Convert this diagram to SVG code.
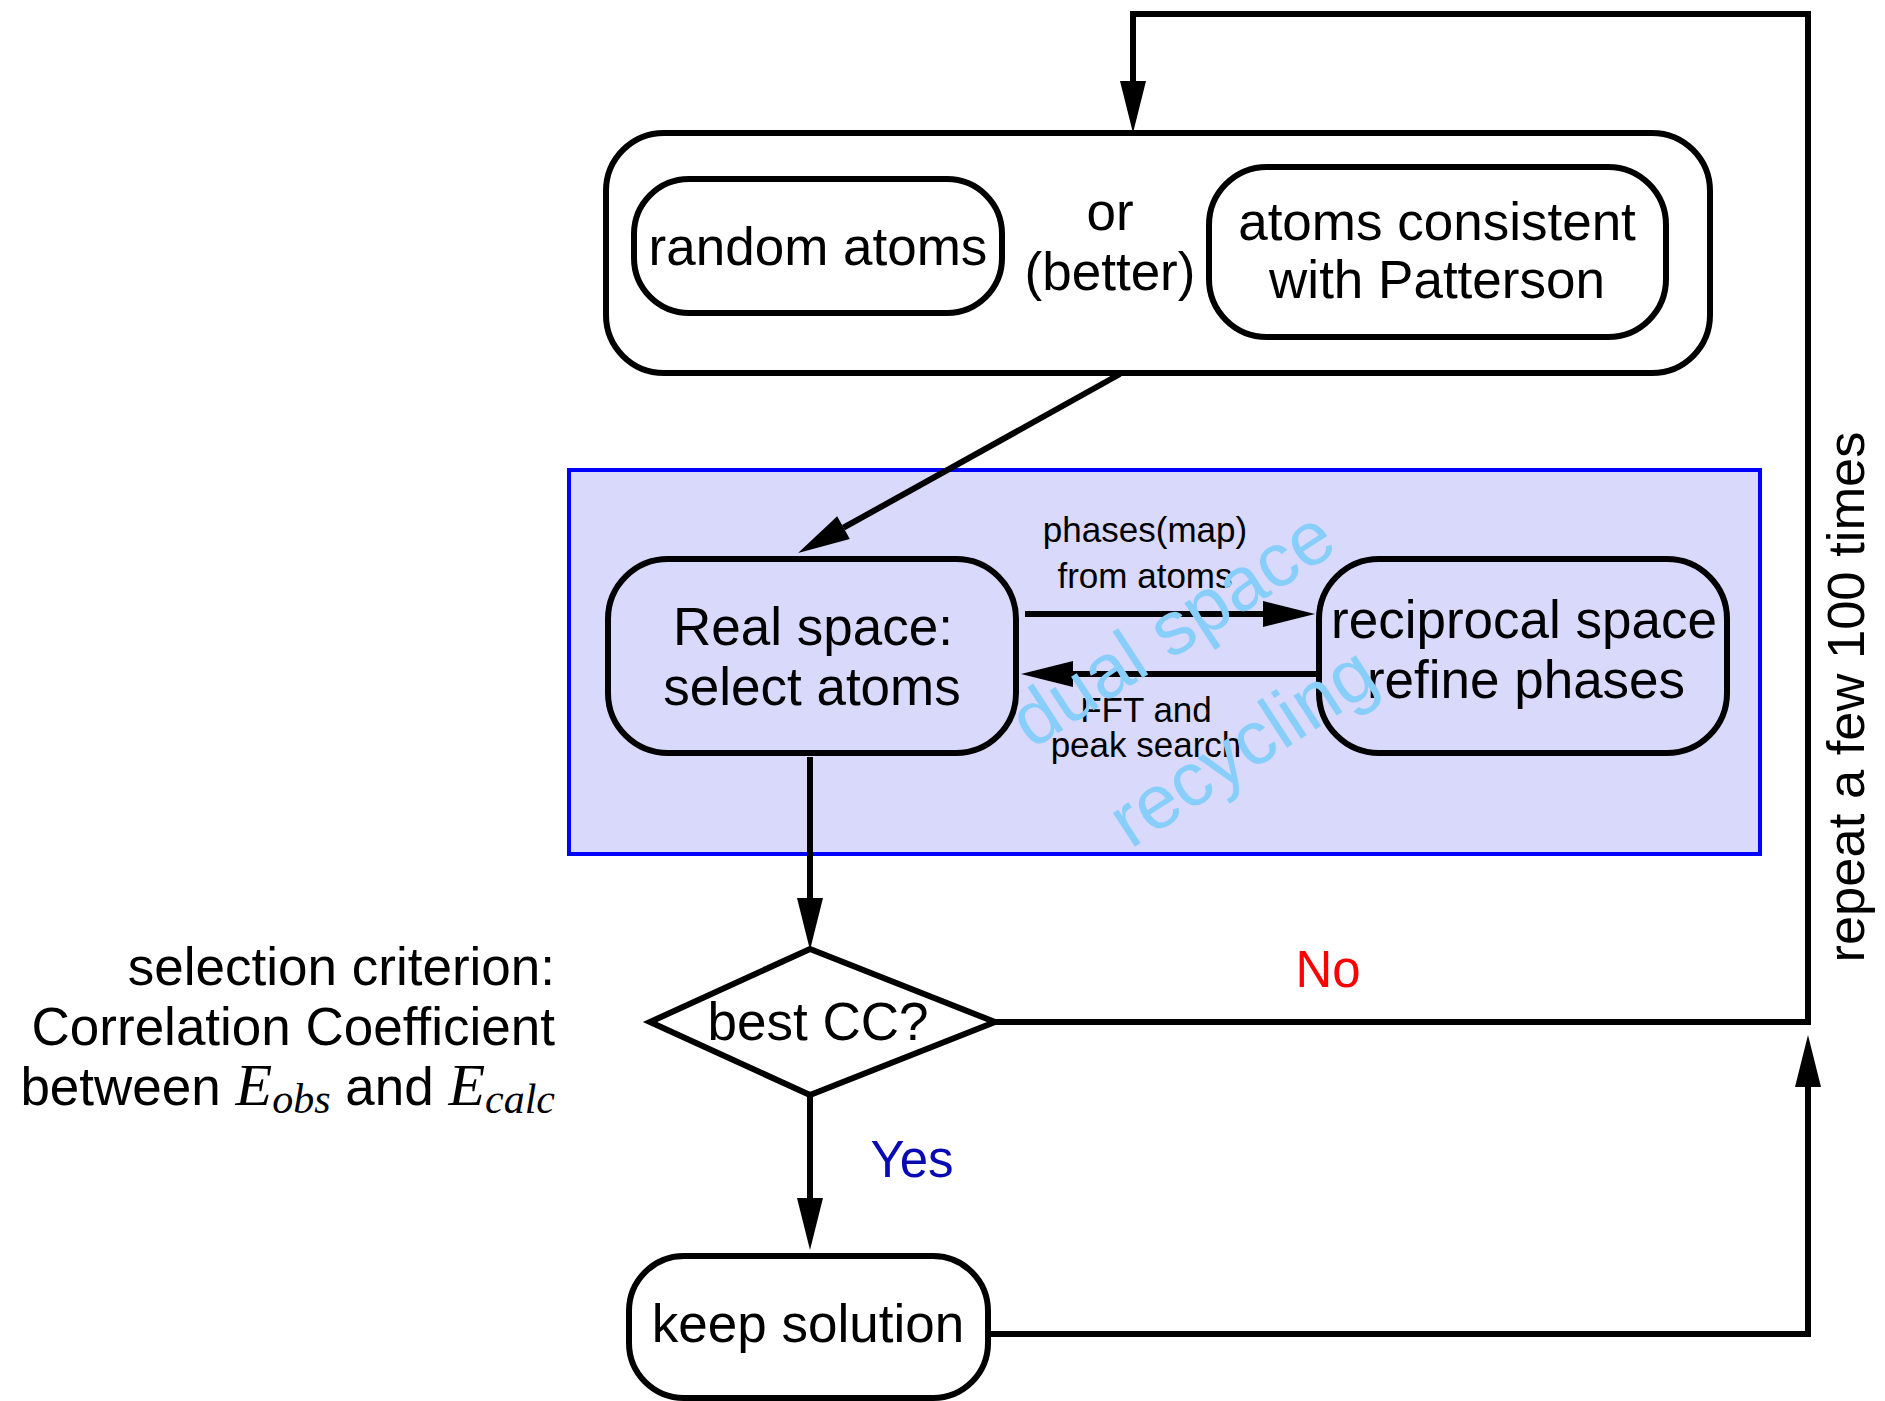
<svg xmlns="http://www.w3.org/2000/svg" width="1885" height="1401" viewBox="0 0 1885 1401">
<style>
text{font-family:"Liberation Sans",Arial,sans-serif;fill:#000}
.box{fill:none;stroke:#000;stroke-width:6}
.big{font-size:53px;text-anchor:middle}
.small{font-size:35px;text-anchor:middle}
.line{fill:none;stroke:#000;stroke-width:6;stroke-linejoin:miter}
.math{font-family:"Liberation Serif","Times New Roman",serif;font-style:italic}
text.wm{font-size:76px;fill:#87cefa;text-anchor:middle}
text.no{fill:#ff0000}
text.yes{fill:#0a0ab4}
</style>
<defs>
<marker id="ah" markerUnits="userSpaceOnUse" markerWidth="52" markerHeight="26" refX="0" refY="13" orient="auto" overflow="visible">
<path d="M0,0 L52,13 L0,26 z" fill="#000"/>
</marker>
</defs>
<rect width="1885" height="1401" fill="#fff"/>

<g id="dual-space-region">
<rect x="569" y="470" width="1191" height="384" fill="#d9d9fb" stroke="#0000ff" stroke-width="4"/>
</g>

<g id="start-options">
<rect class="box" x="606" y="133" width="1104" height="240" rx="58" ry="58"/>
<text class="big" x="1110" y="230">or</text>
<text class="big" x="1110" y="290">(better)</text>
</g>
<g id="random-atoms">
<rect class="box" x="634" y="179" width="368" height="134" rx="55" ry="55"/>
<text class="big" x="818" y="265">random atoms</text>
</g>
<g id="patterson-atoms">
<rect class="box" x="1209" y="167" width="457" height="170" rx="58" ry="58"/>
<text class="big" x="1437" y="240">atoms consistent</text>
<text class="big" x="1437" y="298">with Patterson</text>
</g>
<g id="real-space">
<rect class="box" x="608" y="559" width="408" height="194" rx="60" ry="60"/>
<text class="big" x="813" y="645">Real space:</text>
<text class="big" x="812" y="705">select atoms</text>
</g>
<g id="reciprocal-space">
<rect class="box" x="1319" y="559" width="408" height="194" rx="60" ry="60"/>
<text class="big" x="1524" y="638">reciprocal space</text>
<text class="big" x="1526" y="698">refine phases</text>
</g>
<g id="best-cc">
<polygon class="box" points="650,1022 810,949 995,1022 810,1095"/>
<text class="big" x="818" y="1040">best CC?</text>
</g>
<g id="keep-solution">
<rect class="box" x="629" y="1256" width="359" height="142" rx="55" ry="55"/>
<text class="big" x="808" y="1342">keep solution</text>
</g>

<g id="connectors">
<path class="line" d="M1120,374 L843.5,527.7" marker-end="url(#ah)"/>
<path class="line" d="M1025,614 H1263" stroke-width="7" marker-end="url(#ah)"/>
<path class="line" d="M1316,674 H1073" stroke-width="7" marker-end="url(#ah)"/>
<path class="line" d="M810,757 V898" marker-end="url(#ah)"/>
<path class="line" d="M810,1095 V1198" marker-end="url(#ah)"/>
<path class="line" d="M995,1022 H1808 V14 H1133 V81" marker-end="url(#ah)"/>
<path class="line" d="M988,1334 H1808 V1087" marker-end="url(#ah)"/>
<text class="small" x="1145" y="542">phases(map)</text>
<text class="small" x="1145" y="588">from atoms</text>
<text class="small" x="1146" y="722">FFT and</text>
<text class="small" x="1146" y="757">peak search</text>
<text class="no" x="1328" y="987" font-size="51" text-anchor="middle">No</text>
<text class="yes" x="912" y="1177" font-size="51" text-anchor="middle">Yes</text>
<text transform="translate(1864,697) rotate(-90)" font-size="52.5" text-anchor="middle">repeat a few 100 times</text>
</g>

<g id="watermark">
<text class="wm" transform="translate(1172,628) rotate(-33)" y="26">dual space</text>
<text class="wm" transform="translate(1242,746) rotate(-33)" y="26">recycling</text>
</g>

<g id="criterion-note">
<text x="555" y="985" font-size="53" text-anchor="end">selection criterion:</text>
<text x="555" y="1045" font-size="53" text-anchor="end">Correlation Coefficient</text>
<text x="555" y="1105" font-size="53" text-anchor="end">between <tspan class="math" font-size="60">E</tspan><tspan class="math" font-size="42" dy="8">obs</tspan><tspan dy="-8"> and </tspan><tspan class="math" font-size="60">E</tspan><tspan class="math" font-size="42" dy="8">calc</tspan></text>
</g>
</svg>
